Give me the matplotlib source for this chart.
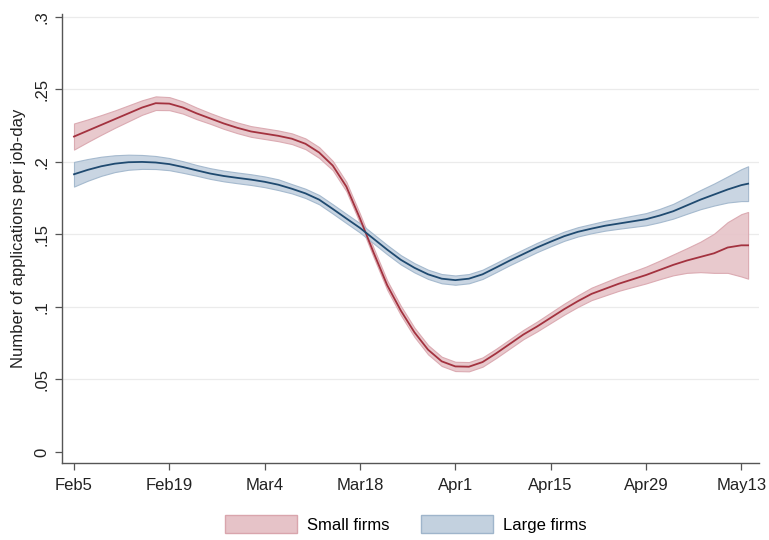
import matplotlib
matplotlib.use("Agg")
import matplotlib.pyplot as plt
from matplotlib.patches import Patch
import numpy as np

plt.rcParams['font.family'] = ['Liberation Sans', 'DejaVu Sans']

# Days since Feb 5
days = [0, 2, 4, 6, 8, 10, 12, 14, 16, 18, 20, 22, 24, 26, 28, 30, 32, 34,
        36, 38, 40, 42, 44, 46, 48, 50, 52, 54, 56, 58, 60, 62, 64, 66, 68,
        70, 72, 74, 76, 78, 80, 82, 84, 86, 88, 90, 92, 94, 96, 98, 99]

small_mean = [0.2175, 0.2215, 0.2255, 0.2295, 0.2335, 0.2375, 0.2405, 0.2402,
              0.2375, 0.2335, 0.2300, 0.2265, 0.2235, 0.2210, 0.2195, 0.2180,
              0.2160, 0.2125, 0.2065, 0.1975, 0.1830, 0.1610, 0.1375, 0.1150,
              0.0975, 0.0825, 0.0705, 0.0625, 0.0590, 0.0588, 0.0620, 0.0680,
              0.0745, 0.0810, 0.0865, 0.0925, 0.0985, 0.1040, 0.1090, 0.1125,
              0.1160, 0.1190, 0.1220, 0.1255, 0.1290, 0.1320, 0.1345, 0.1370,
              0.1410, 0.1425, 0.1425]
small_ci = [0.0090, 0.0078, 0.0068, 0.0060, 0.0055, 0.0050, 0.0047, 0.0045,
            0.0042, 0.0040, 0.0037, 0.0037, 0.0037, 0.0037, 0.0037, 0.0037,
            0.0037, 0.0037, 0.0037, 0.0032, 0.0032, 0.0032, 0.0032, 0.0032,
            0.0032, 0.0032, 0.0032, 0.0032, 0.0032, 0.0032, 0.0032, 0.0032,
            0.0032, 0.0032, 0.0034, 0.0036, 0.0038, 0.0040, 0.0043, 0.0046,
            0.0049, 0.0053, 0.0058, 0.0064, 0.0072, 0.0085, 0.0105, 0.0135,
            0.0175, 0.0215, 0.0230]

large_mean = [0.1915, 0.1945, 0.1970, 0.1988, 0.1998, 0.2000, 0.1996, 0.1985,
              0.1965, 0.1942, 0.1920, 0.1903, 0.1890, 0.1878, 0.1863, 0.1843,
              0.1815, 0.1783, 0.1740, 0.1676, 0.1610, 0.1545, 0.1470, 0.1395,
              0.1325, 0.1270, 0.1225, 0.1195, 0.1185, 0.1195, 0.1225, 0.1272,
              0.1320, 0.1365, 0.1410, 0.1450, 0.1488, 0.1518, 0.1540, 0.1560,
              0.1575, 0.1590, 0.1605, 0.1630, 0.1660, 0.1700, 0.1740, 0.1775,
              0.1810, 0.1840, 0.1850]
large_ci = [0.0085, 0.0075, 0.0066, 0.0058, 0.0052, 0.0048, 0.0045, 0.0042,
            0.0040, 0.0037, 0.0037, 0.0037, 0.0037, 0.0037, 0.0037, 0.0037,
            0.0032, 0.0032, 0.0032, 0.0032, 0.0032, 0.0032, 0.0032, 0.0032,
            0.0032, 0.0032, 0.0032, 0.0032, 0.0032, 0.0032, 0.0032, 0.0032,
            0.0032, 0.0032, 0.0032, 0.0032, 0.0032, 0.0032, 0.0032, 0.0034,
            0.0036, 0.0039, 0.0042, 0.0046, 0.0051, 0.0058, 0.0066, 0.0076,
            0.0090, 0.0110, 0.0120]

xtick_pos = [0, 14, 28, 42, 56, 70, 84, 98]
xtick_labels = ["Feb5", "Feb19", "Mar4", "Mar18", "Apr1", "Apr15", "Apr29", "May13"]
ytick_pos = [0, 0.05, 0.10, 0.15, 0.20, 0.25, 0.30]
ytick_labels = ["0", ".05", ".1", ".15", ".2", ".25", ".3"]

red_line = "#a3323f"
red_fill = "#e6c3c8"
red_edge = "#d9a5ad"
blue_line = "#1f4a70"
blue_fill = "#c3d1df"
blue_edge = "#9fb5cb"

fig = plt.figure(figsize=(7.69, 5.40), dpi=100)
ax = fig.add_axes([62 / 769, 1 - 463 / 540, (759 - 62) / 769, (463 - 14) / 540])

d = np.array(days)
for mean, ci, fc, ec, lc in [(small_mean, small_ci, red_fill, red_edge, red_line),
                             (large_mean, large_ci, blue_fill, blue_edge, blue_line)]:
    m = np.array(mean)
    c = np.array(ci)
    ax.fill_between(d, m - c, m + c, facecolor=fc, edgecolor=ec, linewidth=0.8,
                    alpha=0.9, zorder=2)
    ax.plot(d, m, color=lc, linewidth=1.3, zorder=3, solid_joinstyle="round")

ax.set_xlim(-1.76, 100.6)
ax.set_ylim(-0.0076, 0.302)
ax.set_xticks(xtick_pos)
ax.set_xticklabels(xtick_labels, fontsize=12)
ax.set_yticks(ytick_pos)
ax.set_yticklabels(ytick_labels, fontsize=12, rotation=90, va="center")
ax.tick_params(axis="both", length=5, width=0.9, color="#555555", labelcolor="#222222")
ax.tick_params(axis="x", pad=6)
ax.tick_params(axis="y", pad=4)

for v in ytick_pos[1:]:
    ax.axhline(v, color="#ebebeb", linewidth=0.9, zorder=0)

for s in ["top", "right"]:
    ax.spines[s].set_visible(False)
for s in ["left", "bottom"]:
    ax.spines[s].set_color("#555555")
    ax.spines[s].set_linewidth(1.0)

ax.set_ylabel("Number of applications per job-day", fontsize=12, color="#222222",
              labelpad=6)

handles = [Patch(facecolor=red_fill, edgecolor=red_edge, label="Small firms"),
           Patch(facecolor=blue_fill, edgecolor=blue_edge, label="Large firms")]
fig.legend(handles=handles, loc="center", bbox_to_anchor=(406 / 769, 1 - 524 / 540),
           ncol=2, frameon=False, fontsize=12, handlelength=4.3, handleheight=1.2,
           columnspacing=1.9, handletextpad=0.6)

fig.savefig("out.png", dpi=100, facecolor="white")
